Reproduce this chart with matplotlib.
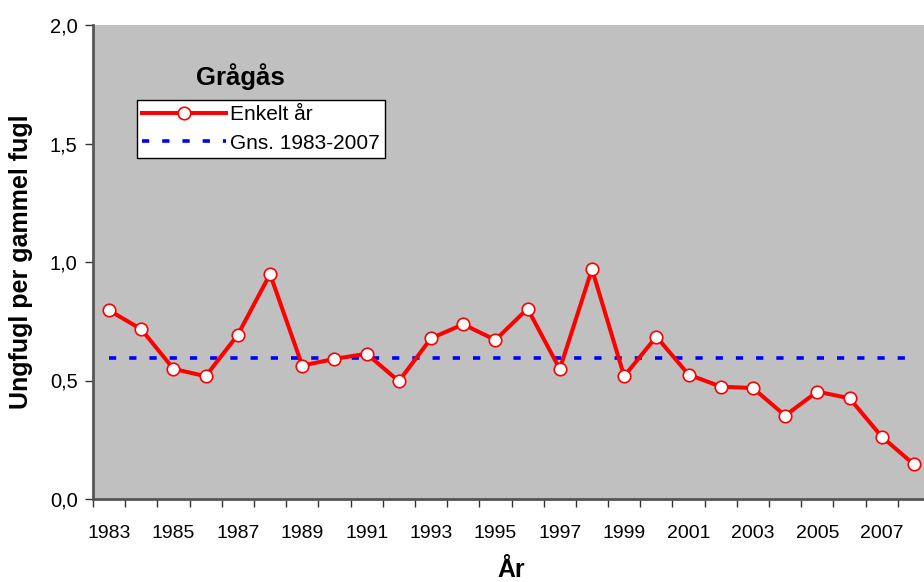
import numpy as np
import matplotlib.pyplot as plt
from matplotlib.ticker import FuncFormatter

plt.rcParams['font.family'] = ['Liberation Sans', 'DejaVu Sans']

years = list(range(1983, 2009))
ratio = [0.796, 0.716, 0.549, 0.518, 0.693, 0.949, 0.563, 0.591, 0.613, 0.497,
         0.678, 0.737, 0.671, 0.803, 0.548, 0.970, 0.518, 0.685, 0.525, 0.474,
         0.468, 0.352, 0.453, 0.425, 0.263, 0.146]
mean_value = 0.596
tick_years = list(range(1983, 2009, 2))

fig = plt.figure(figsize=(9.24, 5.82), dpi=100)
ax = fig.add_axes([93 / 924, 1 - 499 / 582, 837 / 924, 474 / 582])
ax.set_facecolor('#c0c0c0')

ax.plot(years, [mean_value] * len(years), color='#0000ff', linestyle=(0, (2, 3.6)),
        linewidth=2.6, label='Gns. 1983-2007', zorder=2)
ax.plot(years, ratio, color='#ff0000', linewidth=2.9, marker='o', markersize=9,
        markerfacecolor='white', markeredgecolor='#ff0000', markeredgewidth=1.2,
        label='Enkelt år', zorder=3)

ax.set_xlim(1982.5, 2008.5)
ax.set_ylim(0, 2.0)
ax.set_yticks(np.arange(0, 2.01, 0.5))
ax.yaxis.set_major_formatter(FuncFormatter(lambda v, p: f'{v:.1f}'.replace('.', ',')))
ax.set_xticks(tick_years)
ax.set_xticks(np.arange(1982.5, 2008.6, 1), minor=True)
ax.tick_params(axis='x', which='major', length=0, pad=19, labelsize=14)
ax.tick_params(axis='x', which='minor', length=6, width=1, color='#333333')
ax.tick_params(axis='y', length=6, width=1, color='#333333', labelsize=14.5, pad=5)

for s in ['top', 'right']:
    ax.spines[s].set_visible(False)
for s in ['left', 'bottom']:
    ax.spines[s].set_color('#555555')
    ax.spines[s].set_linewidth(2)

ax.set_xlabel('År', fontsize=18, fontweight='bold', labelpad=11)
ax.set_ylabel('Ungfugl per gammel fugl', fontsize=18, fontweight='bold')
ax.yaxis.set_label_coords(-60 / 837, 0.5)

fig.text(240 / 924, 1 - 77 / 582, 'Grågås', fontsize=18.5, fontweight='bold',
         ha='center', va='center')

handles, labels = ax.get_legend_handles_labels()
leg = ax.legend(handles[::-1], labels[::-1], loc='upper left',
                bbox_to_anchor=((137 - 93) / 837, (499 - 100) / 474),
                frameon=True, fancybox=False, fontsize=15, handlelength=4.0,
                handletextpad=0.2, borderpad=0.25, labelspacing=0.45, borderaxespad=0)
leg.get_frame().set_edgecolor('black')
leg.get_frame().set_linewidth(1)
leg.get_frame().set_facecolor('white')
leg.get_frame().set_alpha(1)

fig.savefig('out.png', dpi=100)
